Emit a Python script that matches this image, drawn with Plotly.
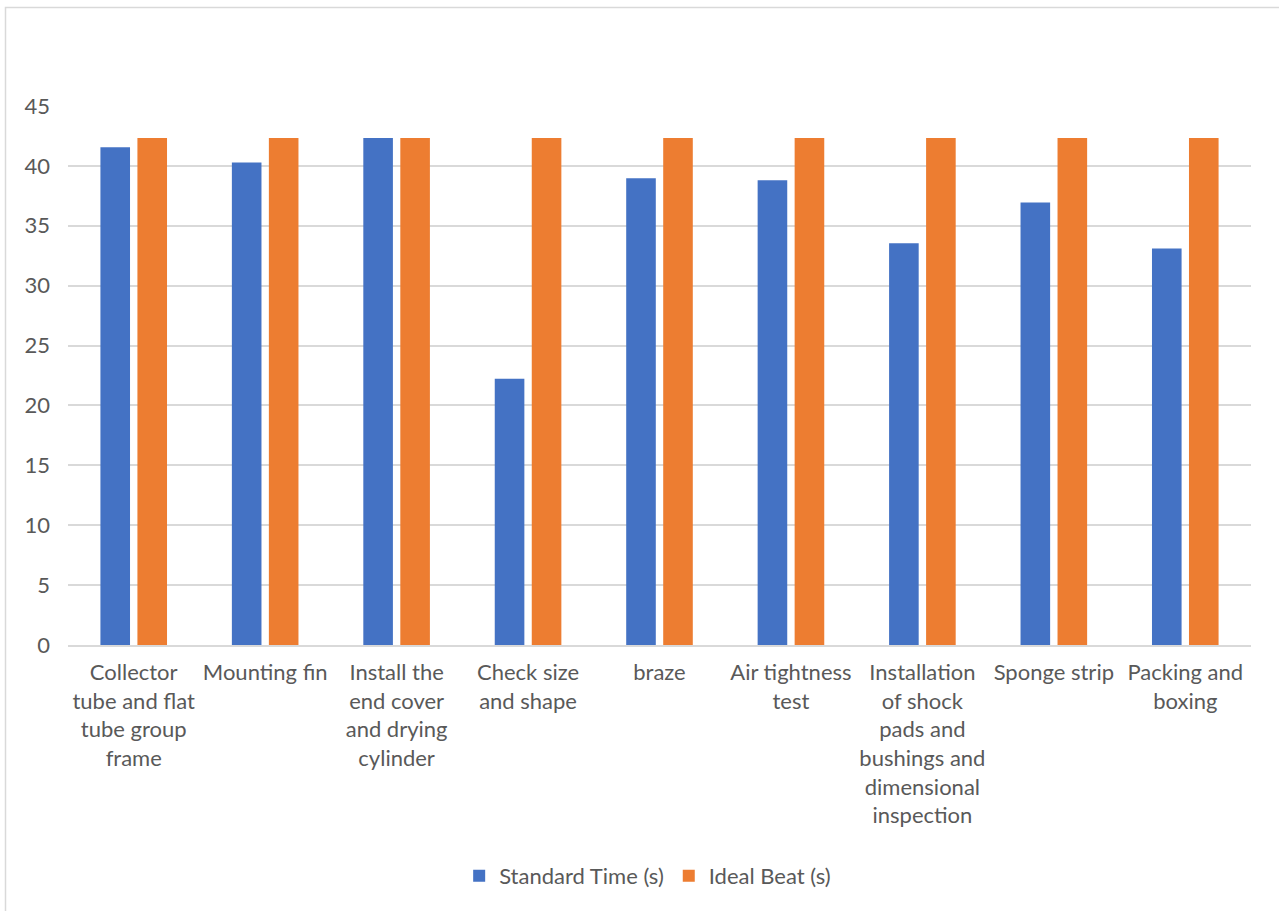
import plotly.graph_objects as go

categories = [
    "Collector<br>tube and flat<br>tube group<br>frame",
    "Mounting fin",
    "Install the<br>end cover<br>and drying<br>cylinder",
    "Check size<br>and shape",
    "braze",
    "Air tightness<br>test",
    "Installation<br>of shock<br>pads and<br>bushings and<br>dimensional<br>inspection",
    "Sponge strip",
    "Packing and<br>boxing",
]
standard_time = [41.56, 40.28, 42.33, 22.22, 38.97, 38.80, 33.55, 36.94, 33.11]
ideal_beat = [42.33, 42.33, 42.33, 42.33, 42.33, 42.33, 42.33, 42.33, 42.33]
y_ticks = [0, 5, 10, 15, 20, 25, 30, 35, 40, 45]

W, H = 1279, 911
L, R, T, B = 68, 28, 106, 266
pw, ph = W - L - R, H - T - B

def px_x(p):
    return (p - L) / pw

def px_y(p):
    return (H - B - p) / ph

fig = go.Figure()
fig.add_trace(go.Bar(name="Standard Time (s)", x=categories, y=standard_time,
                     marker=dict(color="#4472C4", line=dict(width=0))))
fig.add_trace(go.Bar(name="Ideal Beat (s)", x=categories, y=ideal_beat,
                     marker=dict(color="#ED7D31", line=dict(width=0))))

font_family = "Lato, 'Noto Sans', sans-serif"
fig.update_layout(
    width=W, height=H,
    margin=dict(l=L, r=R, t=T, b=B, autoexpand=False),
    paper_bgcolor="white", plot_bgcolor="white",
    barmode="group", bargap=0.437, bargroupgap=0.2,
    font=dict(family=font_family, size=22, color="#595959"),
    legend=dict(orientation="h", x=0.49, xanchor="center", y=px_y(876), yanchor="middle",
                font=dict(size=22, color="#595959"), itemwidth=30, traceorder="normal"),
    xaxis=dict(showgrid=False, showline=True, linecolor="#d9d9d9", linewidth=1.5,
               ticks="", tickangle=0, tickfont=dict(size=22), ticklabelstandoff=7),
    yaxis=dict(range=[0, 45], tickvals=y_ticks, showgrid=True, gridcolor="#d9d9d9",
               gridwidth=1.5, zeroline=False, showline=False, ticks="",
               tickfont=dict(size=22), ticklabelstandoff=17),
    shapes=[dict(type="rect", xref="paper", yref="paper",
                 x0=px_x(5.5), x1=px_x(1300), y0=px_y(930), y1=px_y(7.5),
                 line=dict(color="#d9d9d9", width=1.5), layer="below")],
)

fig.write_html("out.html")
